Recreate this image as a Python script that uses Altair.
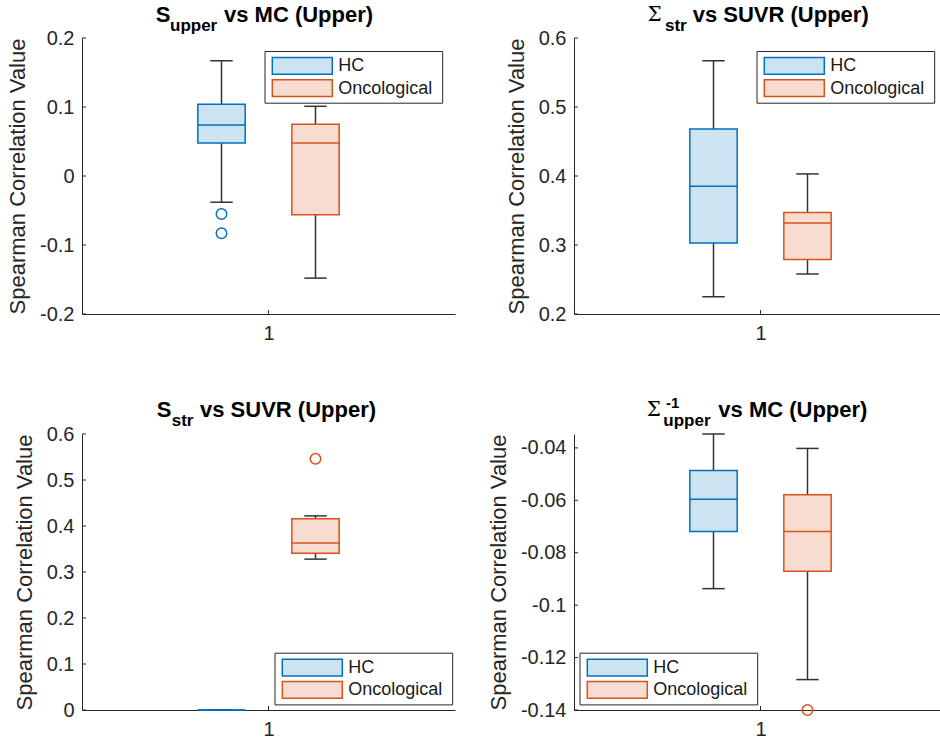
import altair as alt
import pandas as pd

GROUPS = ["HC", "Oncological"]
STROKES = ["#0072BD", "#D95319"]
FILLS = ["#cce3f2", "#f7ddd1"]

# Panel 1: S_upper vs MC (Upper)
P1_LOW = [-0.038, -0.148]
P1_Q1 = [0.048, -0.056]
P1_MED = [0.074, 0.048]
P1_Q3 = [0.104, 0.075]
P1_HIGH = [0.167, 0.101]
P1_OUT_HC = [-0.055, -0.083]
P1_OUT_ONC = []
P1_TICKS = [-0.2, -0.1, 0, 0.1, 0.2]
P1_DOMAIN = [-0.2, 0.2]

# Panel 2: Sigma_str vs SUVR (Upper)
P2_LOW = [0.225, 0.258]
P2_Q1 = [0.303, 0.279]
P2_MED = [0.385, 0.332]
P2_Q3 = [0.468, 0.347]
P2_HIGH = [0.567, 0.403]
P2_OUT_HC = []
P2_OUT_ONC = []
P2_TICKS = [0.2, 0.3, 0.4, 0.5, 0.6]
P2_DOMAIN = [0.2, 0.6]

# Panel 3: S_str vs SUVR (Upper)
P3_LOW = [0.0, 0.328]
P3_Q1 = [0.0, 0.341]
P3_MED = [0.0, 0.363]
P3_Q3 = [0.0, 0.416]
P3_HIGH = [0.0, 0.422]
P3_OUT_HC = []
P3_OUT_ONC = [0.546]
P3_TICKS = [0, 0.1, 0.2, 0.3, 0.4, 0.5, 0.6]
P3_DOMAIN = [0.0, 0.6]

# Panel 4: Sigma^-1_upper vs MC (Upper)
P4_LOW = [-0.0937, -0.1284]
P4_Q1 = [-0.0719, -0.0871]
P4_MED = [-0.0596, -0.0719]
P4_Q3 = [-0.0486, -0.0579]
P4_HIGH = [-0.0347, -0.0402]
P4_OUT_HC = []
P4_OUT_ONC = [-0.140]
P4_TICKS = [-0.14, -0.12, -0.1, -0.08, -0.06, -0.04]
P4_DOMAIN = [-0.14, -0.0347]

X_TICK_LABELS = [1]
Y_TITLE = "Spearman Correlation Value"

FONT = "Liberation Sans"
SERIF = "DejaVu Serif"
AXIS_COLOR = "#262626"
WHISKER = "#333333"
H = 276

OFFSET = 0.126
BOX_HALF = 0.0635
CAP_HALF = 0.03


def make_panel(low, q1, med, q3, high, out_hc, out_onc, ticks, ydomain,
               width, title_parts, legend_xy):
    xdomain = [0.5, 0.5 + width / 373.0]
    xscale = alt.Scale(domain=xdomain, nice=False, zero=False)
    yscale = alt.Scale(domain=ydomain, nice=False, zero=False)
    minus = "\u2212"
    xaxis = alt.Axis(values=X_TICK_LABELS, title=None, labelExpr="format(datum.value, 'd')")
    yaxis = alt.Axis(values=ticks, title=Y_TITLE,
                     labelExpr="replace(format(datum.value, '~g'), '" + minus + "', '-')")

    def X(f):
        return alt.X(f, type="quantitative", scale=xscale, axis=xaxis)

    def Y(f):
        return alt.Y(f, type="quantitative", scale=yscale, axis=yaxis)

    rows = []
    for i, g in enumerate(GROUPS):
        c = 1 + (i - 0.5) * 2 * OFFSET
        rows.append(dict(g=g, c=c, xl=c - BOX_HALF, xr=c + BOX_HALF,
                         cl=c - CAP_HALF, cr=c + CAP_HALF,
                         low=low[i], q1=q1[i], med=med[i], q3=q3[i], high=high[i],
                         stroke=STROKES[i], fill=FILLS[i]))
    df = pd.DataFrame(rows)

    layers = []
    # inside ticks
    tdf = pd.DataFrame({"t": ticks})
    layers.append(alt.Chart(tdf).mark_rule(color=AXIS_COLOR, strokeWidth=1).encode(
        y=Y("t"), x=alt.value(0), x2=alt.value(4)))
    xtdf = pd.DataFrame({"t": X_TICK_LABELS})
    layers.append(alt.Chart(xtdf).mark_rule(color=AXIS_COLOR, strokeWidth=1).encode(
        x=X("t"), y=alt.value(H), y2=alt.value(H - 4)))
    base = alt.Chart(df)
    # whiskers
    layers.append(base.mark_rule(color=WHISKER, strokeWidth=1.5).encode(
        x=X("c"), y=Y("low"), y2="high"))
    layers.append(base.mark_rule(color=WHISKER, strokeWidth=1.5).encode(
        x=X("cl"), x2="cr", y=Y("low")))
    layers.append(base.mark_rule(color=WHISKER, strokeWidth=1.5).encode(
        x=X("cl"), x2="cr", y=Y("high")))
    # boxes
    layers.append(base.mark_rect(strokeWidth=1.5).encode(
        x=X("xl"), x2="xr", y=Y("q1"), y2="q3",
        fill=alt.Fill("fill:N", scale=None),
        stroke=alt.Stroke("stroke:N", scale=None)))
    layers.append(base.mark_rule(strokeWidth=1.5).encode(
        x=X("xl"), x2="xr", y=Y("med"),
        color=alt.Color("stroke:N", scale=None)))
    # outliers
    for i, outs in enumerate([out_hc, out_onc]):
        if outs:
            c = 1 + (i - 0.5) * 2 * OFFSET
            odf = pd.DataFrame({"x": [c] * len(outs), "y": outs})
            layers.append(alt.Chart(odf).mark_point(
                shape="circle", filled=False, size=110, strokeWidth=1.5,
                color=STROKES[i], opacity=1).encode(x=X("x"), y=Y("y")))
    # legend
    bx, by = legend_xy
    one = pd.DataFrame({"g": ["legend"]})
    layers.append(alt.Chart(one).mark_rect(fill="white", stroke=AXIS_COLOR, strokeWidth=1).encode(
        x=alt.value(bx), x2=alt.value(bx + 177.7), y=alt.value(by), y2=alt.value(by + 51.7)))
    for i, g in enumerate(GROUPS):
        y0 = by + 6 + i * 22.3
        gdf = pd.DataFrame({"g": [g]})
        layers.append(alt.Chart(gdf).mark_rect(fill=FILLS[i], stroke=STROKES[i], strokeWidth=1.5).encode(
            x=alt.value(bx + 7.3), x2=alt.value(bx + 67.3), y=alt.value(y0), y2=alt.value(y0 + 16.7)))
        layers.append(alt.Chart(gdf).mark_text(
            align="left", baseline="middle", font=FONT, fontSize=18, color="#1a1a1a").encode(
            x=alt.value(bx + 73.3), y=alt.value(y0 + 8.8), text="g:N"))
    # title pieces
    for (txt, kind, px, py) in title_parts:
        tdf2 = pd.DataFrame({"s": [txt]})
        if kind == "main":
            mk = dict(font=FONT, fontSize=22, fontWeight="bold")
        elif kind == "sigma":
            mk = dict(font=SERIF, fontSize=20, fontWeight="normal")
        elif kind == "sup":
            mk = dict(font=FONT, fontSize=15, fontWeight="bold")
        else:
            mk = dict(font=FONT, fontSize=17, fontWeight="bold")
        layers.append(alt.Chart(tdf2).mark_text(
            align="left", baseline="alphabetic", color="#000000", **mk).encode(
            x=alt.value(px), y=alt.value(py), text="s:N"))
    return alt.layer(*layers).properties(width=width, height=H)


TITLE1 = [("S", "main", 73.7, -16.5), ("upper", "sub", 88, -7.5), ("vs MC (Upper)", "main", 142, -16.5)]
TITLE2 = [("\u03a3", "sigma", 73.5, -17.5), ("str", "sub", 91, -7.5), ("vs SUVR (Upper)", "main", 118.7, -16.5)]
TITLE3 = [("S", "main", 74.7, -16.8), ("str", "sub", 89.7, -7.8), ("vs SUVR (Upper)", "main", 118, -16.8)]
TITLE4 = [("\u03a3", "sigma", 72.7, -18.3), ("-1", "sup", 92, -26.0), ("upper", "sub", 89.3, -8.5),
          ("vs MC (Upper)", "main", 144.3, -17)]

p1 = make_panel(P1_LOW, P1_Q1, P1_MED, P1_Q3, P1_HIGH, P1_OUT_HC, P1_OUT_ONC,
                P1_TICKS, P1_DOMAIN, 373, TITLE1, (183, 13.5))
p2 = make_panel(P2_LOW, P2_Q1, P2_MED, P2_Q3, P2_HIGH, P2_OUT_HC, P2_OUT_ONC,
                P2_TICKS, P2_DOMAIN, 366, TITLE2, (183, 13.5))
p3 = make_panel(P3_LOW, P3_Q1, P3_MED, P3_Q3, P3_HIGH, P3_OUT_HC, P3_OUT_ONC,
                P3_TICKS, P3_DOMAIN, 373, TITLE3, (193, 219.2))
p4 = make_panel(P4_LOW, P4_Q1, P4_MED, P4_Q3, P4_HIGH, P4_OUT_HC, P4_OUT_ONC,
                P4_TICKS, P4_DOMAIN, 366, TITLE4, (6, 219.2))

chart = alt.concat(p1, p2, p3, p4, columns=2,
                   spacing=alt.RowColnumber(row=120, column=119),
                   bounds="flush").properties(
    padding={"left": 6, "top": 3, "right": 0, "bottom": 0}
).configure_view(strokeOpacity=0).configure_axis(
    domainColor=AXIS_COLOR, domainWidth=1, labelColor=AXIS_COLOR, labelFont=FONT,
    labelFontSize=20, titleFont=FONT, titleFontSize=22, titleFontWeight="normal",
    titleColor=AXIS_COLOR, ticks=False, grid=False, labelPadding=8
).configure_axisY(titlePadding=10).configure_axisX(labelPadding=9)

chart.save("out.html", embed_options={"renderer": "svg", "actions": False})
